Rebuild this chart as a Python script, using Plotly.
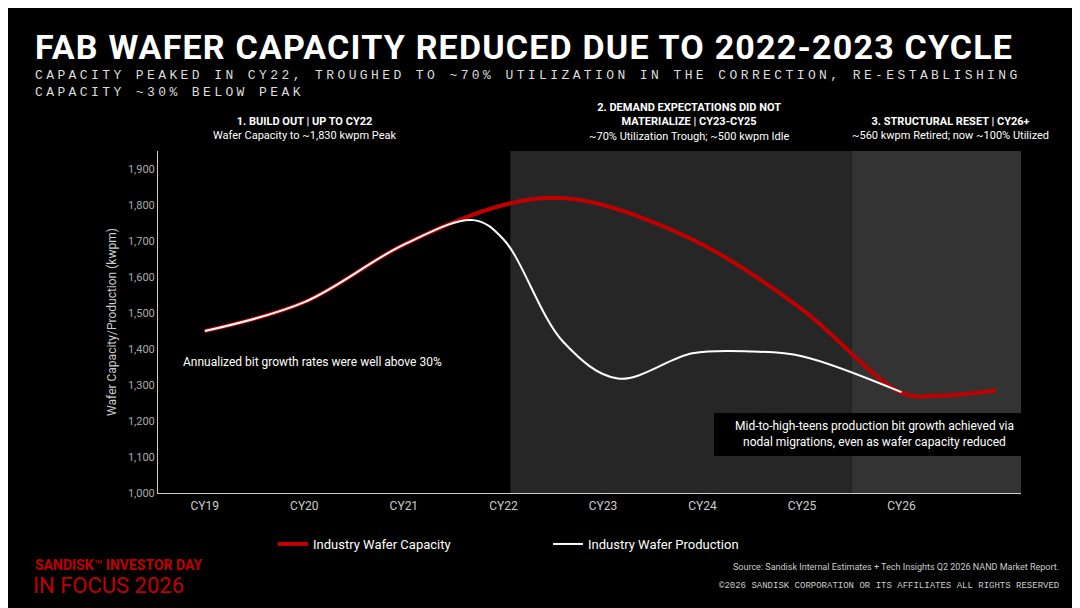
import plotly.graph_objects as go

# category axis
categories = ["CY19", "CY20", "CY21", "CY22", "CY23", "CY24", "CY25", "CY26"]
y_ticks = [1000, 1100, 1200, 1300, 1400, 1500, 1600, 1700, 1800, 1900]

# series (x in category units, CY19 = 0)
cap_x = [0, 1, 2, 3, 3.5, 4, 5, 6, 7, 7.35, 7.95]
cap_y = [1450, 1530, 1690, 1800, 1820, 1800, 1690, 1510, 1278, 1270, 1285]
prod_x = [0, 1, 2, 2.7, 3.0, 3.6, 4.15, 4.9, 5.5, 6, 7]
prod_y = [1450, 1530, 1690, 1758, 1705, 1420, 1318, 1388, 1393, 1380, 1280]

RED = "#c00000"
W, H = 1080, 608
L, R, T, B = 150, 1013, 143, 485


def px(x):
    return (x - L) / (R - L)


def py(y):
    return (B - y) / (B - T)


fig = go.Figure()
fig.add_trace(go.Scatter(x=cap_x, y=cap_y, mode="lines", name="Industry Wafer Capacity",
                         line=dict(color=RED, width=4, shape="spline", smoothing=1.0)))
fig.add_trace(go.Scatter(x=prod_x, y=prod_y, mode="lines", name="Industry Wafer Production",
                         line=dict(color="white", width=2, shape="spline", smoothing=1.0)))

# phase shading
fig.add_shape(type="rect", xref="x", yref="paper", x0=3.07, x1=6.5, y0=0, y1=1,
              fillcolor="#262626", line_width=0, layer="below")
fig.add_shape(type="rect", xref="x", yref="paper", x0=6.5, x1=8.2, y0=0, y1=1,
              fillcolor="#333333", line_width=0, layer="below")

anns = []


def txt(x, y, s, size, color="white", family="Roboto", anchor="center", yanchor="middle"):
    anns.append(dict(xref="paper", yref="paper", x=px(x), y=py(y), text=s, showarrow=False,
                     font=dict(size=size, color=color, family=family),
                     xanchor=anchor, yanchor=yanchor, align=anchor))


txt(25, 39, '<b><span style="letter-spacing:1.2px">FAB WAFER CAPACITY REDUCED DUE TO 2022-2023 CYCLE</span></b>',
    34, family="Roboto", anchor="left")
sub = '<span style="letter-spacing:3.4px">CAPACITY PEAKED IN CY22, TROUGHED TO ~70% UTILIZATION IN THE CORRECTION, RE-ESTABLISHING<br>CAPACITY ~30% BELOW PEAK</span>'
txt(25, 76, sub, 13, color="#dddddd", family="Liberation Mono", anchor="left")

txt(296, 120, "<b>1. BUILD OUT | UP TO CY22</b><br>Wafer Capacity to ~1,830 kwpm Peak", 11)
txt(681, 114, "<b>2. DEMAND EXPECTATIONS DID NOT<br>MATERIALIZE | CY23-CY25</b><br>~70% Utilization Trough; ~500 kwpm Idle", 11, anchor="center")
txt(942, 120, "<b>3. STRUCTURAL RESET | CY26+</b><br>~560 kwpm Retired; now ~100% Utilized", 11)

txt(173, 354, "Annualized bit growth rates were well above 30%", 12, anchor="left")
txt(866, 426, "Mid-to-high-teens production bit growth achieved via<br>nodal migrations, even as wafer capacity reduced", 12)

txt(1053, 559, "Source: Sandisk Internal Estimates + Tech Insights Q2 2026 NAND Market Report.", 9,
    color="#cccccc", anchor="right")
txt(1053, 578, "©2026 SANDISK CORPORATION OR ITS AFFILIATES ALL RIGHTS RESERVED", 9,
    color="#cccccc", family="Liberation Mono", anchor="right")
txt(25, 557, "<b>SANDISK</b>™ <b>INVESTOR DAY</b>", 14, color=RED, anchor="left")
txt(23, 577, "IN FOCUS 2026", 22, color=RED, family="Roboto", anchor="left")

# note box behind the lower-right text
fig.add_shape(type="rect", xref="paper", yref="paper", x0=px(706), x1=px(1026), y0=py(448), y1=py(405),
              fillcolor="black", line_width=0, layer="above")

fig.update_layout(
    width=W, height=H,
    margin=dict(l=L, r=W - R, t=T, b=H - B),
    paper_bgcolor="black", plot_bgcolor="black",
    font=dict(family="Roboto", color="white"),
    annotations=anns,
    showlegend=True,
    legend=dict(orientation="h", x=px(540), y=py(536), xanchor="center", yanchor="middle",
                font=dict(size=13, color="white"), itemwidth=30, tracegroupgap=0,
                bgcolor="rgba(0,0,0,0)", entrywidth=230),
    xaxis=dict(range=[-0.47, 8.2], tickvals=list(range(len(categories))), ticktext=categories,
               showgrid=False, zeroline=False, showline=True, linecolor="#cccccc", linewidth=1,
               tickfont=dict(size=12, color="#cccccc"), ticks="", ticklabelstandoff=2),
    yaxis=dict(range=[1000, 1950], tickvals=y_ticks, tickformat=",", showgrid=False, zeroline=False,
               showline=True, linecolor="#cccccc", linewidth=1, ticks="",
               tickfont=dict(size=11, color="#aaaaaa"),
               title=dict(text="Wafer Capacity/Production (kwpm)", font=dict(size=12, color="#cccccc"),
                          standoff=8)),
)

fig.write_html("out.html")
